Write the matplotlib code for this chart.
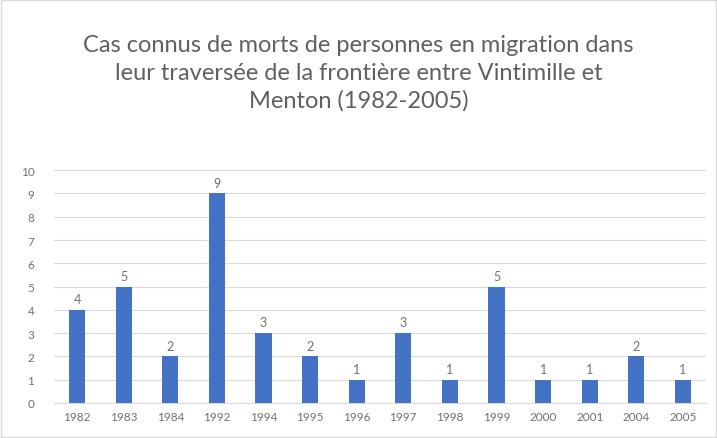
import matplotlib
matplotlib.use("Agg")
import matplotlib.pyplot as plt
from matplotlib.patches import Rectangle

years = ["1982", "1983", "1984", "1992", "1994", "1995", "1996", "1997", "1998", "1999", "2000", "2001", "2004", "2005"]
deaths = [4, 5, 2, 9, 3, 2, 1, 3, 1, 5, 1, 1, 2, 1]
yticks = list(range(0, 11))
title = "Cas connus de morts de personnes en migration dans\nleur traversée de la frontière entre Vintimille et\nMenton (1982-2005)"

plt.rcParams['font.family'] = ['Lato', 'DejaVu Sans']

fig = plt.figure(figsize=(7.17, 4.39), dpi=100)
ax = fig.add_axes([0.075, 0.080, 0.910, 0.530])

x = list(range(len(years)))
bars = ax.bar(x, deaths, width=0.35, color="#4472C4", zorder=3)
for xi, v in zip(x, deaths):
    ax.text(xi, v + 0.2, str(v), ha="center", va="bottom", fontsize=9, color="#707070")

ax.set_xlim(-0.5, len(years) - 0.5)
ax.set_ylim(0, 10)
ax.set_yticks(yticks)
ax.set_xticks(x)
ax.set_xticklabels(years)
ax.tick_params(axis="both", length=0, labelsize=8.5, colors="#707070")
ax.tick_params(axis="y", pad=14)
ax.tick_params(axis="x", pad=6)
ax.grid(axis="y", color="#D9D9D9", linewidth=0.8, zorder=0)
for s in ["top", "right", "left"]:
    ax.spines[s].set_visible(False)
ax.spines["bottom"].set_color("#D9D9D9")

fig.text(0.5, 0.92, title, ha="center", va="top", fontsize=17, color="#606060", linespacing=1.38)
fig.patches.append(Rectangle((0.002, 0.003), 0.996, 0.994, transform=fig.transFigure,
                             fill=False, edgecolor="#D9D9D9", linewidth=1))

fig.savefig("out.png", dpi=100)
